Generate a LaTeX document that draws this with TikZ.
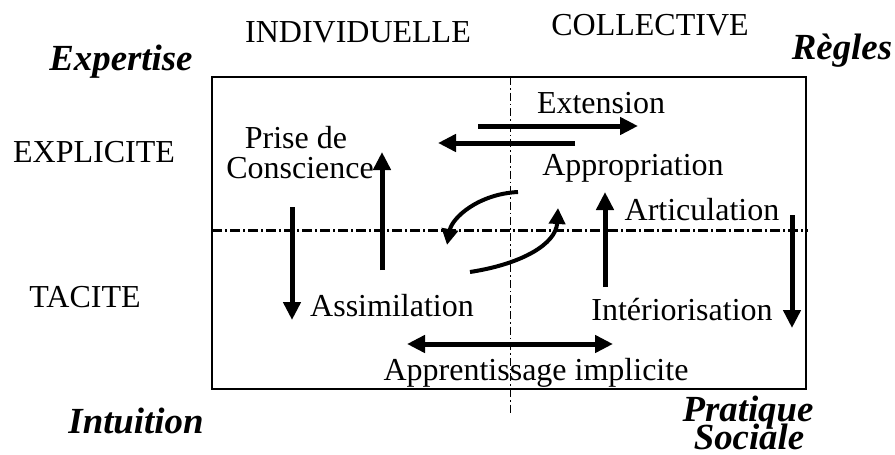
\documentclass[tikz,border=0pt]{standalone}
\usepackage{fontspec}
\setmainfont{Liberation Serif}
\usepackage{tikz}
\usetikzlibrary{arrows.meta,calc,positioning}

\begin{document}
\begin{tikzpicture}[x=0.5pt,y=-0.5pt,
        lbl/.style={anchor=base,inner sep=0pt,font=\fontsize{16}{15}\selectfont},
        pole/.style={anchor=base,inner sep=0pt,font=\fontsize{18.4}{14.5}\selectfont\bfseries\itshape},
        fleche/.style={line width=2.5pt,-{Triangle[length=9pt,width=8.5pt]}},
        courbe/.style={line width=2pt,-{Triangle[length=8pt,width=8pt]}}]
        \useasboundingbox (0,0) rectangle (895,455);
        %Corners
        \coordinate (c1) at (212,77);
        \coordinate (c2) at (806,389);
        \coordinate (h1) at (212,230);
        \coordinate (h2) at (808,230);
        \coordinate (v1) at (510,77);
        \coordinate (v2) at (510,415);
        %Frame and axes
        \draw[line width=0.9pt] (c1) rectangle (c2);
        \draw[line width=1.5pt,dash pattern=on 5pt off 1.5pt on 1pt off 1.5pt] (h1) -- (h2);
        \draw[line width=0.5pt,dash pattern=on 4pt off 1.5pt on 0.8pt off 1.5pt] (v1) -- (v2);
        %Outside labels
        \node[lbl] (indiv) at (358,42) {INDIVIDUELLE};
        \node[lbl] (coll) at (650,35) {COLLECTIVE};
        \node[lbl] (expl) at (94,162) {EXPLICITE};
        \node[lbl] (tacite) at (85,307) {TACITE};
        \node[pole] (expertise) at (121,70) {Expertise};
        \node[pole] (regles) at (842,60) {Règles};
        \node[pole] (intuition) at (136,433) {Intuition};
        \node[pole] (pratique) at (748,421) {Pratique};
        \node[pole] (sociale) at (749,449) {Sociale};
        %Inside labels
        \node[lbl] (prise) at (296,148) {Prise de};
        \node[lbl] (conscience) at (300,178) {Conscience};
        \node[lbl] (extension) at (601,113) {Extension};
        \node[lbl] (appropriation) at (633,175) {Appropriation};
        \node[lbl] (articulation) at (702,220) {Articulation};
        \node[lbl] (interior) at (682,320) {Intériorisation};
        \node[lbl] (assimilation) at (392,316) {Assimilation};
        \node[lbl] (apprent) at (536,380) {Apprentissage implicite};
        %Arrow ends
        \coordinate (a1) at (292,207);
        \coordinate (a2) at (292,320);
        \coordinate (b1) at (382,270);
        \coordinate (b2) at (382,152);
        \coordinate (e1) at (478,126);
        \coordinate (e2) at (638,126);
        \coordinate (f1) at (575,143);
        \coordinate (f2) at (438,143);
        \coordinate (g1) at (605,287);
        \coordinate (g2) at (605,192);
        \coordinate (k1) at (792,215);
        \coordinate (k2) at (792,328);
        \coordinate (m1) at (407,344);
        \coordinate (m2) at (613,344);
        \coordinate (p1) at (518,192);
        \coordinate (p2) at (447,245);
        \coordinate (q1) at (470,272);
        \coordinate (q2) at (558,208);
        %Draw arrows
        \draw[fleche] (a1) -- (a2);
        \draw[fleche] (b1) -- (b2);
        \draw[fleche] (e1) -- (e2);
        \draw[fleche] (f1) -- (f2);
        \draw[fleche] (g1) -- (g2);
        \draw[fleche] (k1) -- (k2);
        \draw[fleche,{Triangle[length=9pt,width=8.5pt]}-{Triangle[length=9pt,width=8.5pt]}] (m1) -- (m2);
        \draw[courbe] (p1) .. controls (478,194) and (452,218) .. (p2);
        \draw[courbe] (q1) .. controls (522,264) and (556,244) .. (q2);
      \end{tikzpicture}
\end{document}
